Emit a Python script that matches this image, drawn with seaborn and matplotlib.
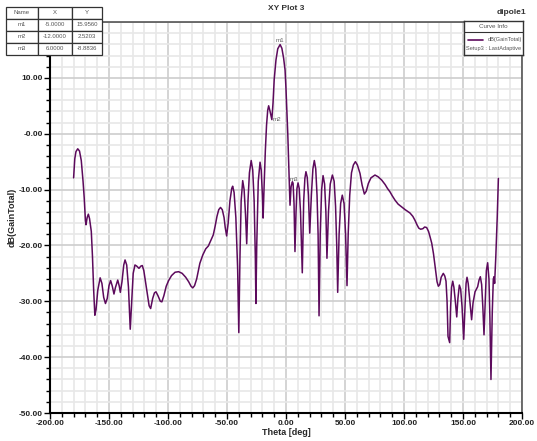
import numpy as np
import pandas as pd
import matplotlib
matplotlib.use("Agg")
import matplotlib.pyplot as plt
from matplotlib.ticker import MultipleLocator
from matplotlib.lines import Line2D
import seaborn as sns

# values
theta = [-180, -179, -178, -176.5, -175, -173.5, -172, -171, -170, -169.5, -168.5, -167.5, -166.5, -165, -164, -163, -162,
         -161, -159.5, -157.5, -156, -154.5, -153, -151.5, -150, -148.6, -147.2, -145.8, -144.5, -142.6, -141.3, -140.4,
         -139, -137.5, -136.4, -135, -133.5, -132, -130.5, -129.5, -128, -126.5, -124.6, -123, -121.8, -120.5, -118,
         -116, -114.7, -113, -111.5, -110.2, -108.5, -106.5, -105.2, -103.5, -101.5, -99.5, -97, -94, -91, -88, -85,
         -82.5, -80.5, -79, -77.5, -75.7, -73, -70.5, -68, -65.8, -63.5, -61.6, -60, -58.5, -57, -55.5, -54, -52.5,
         -51.5, -50.3, -49, -47.5, -46, -45.2, -44, -42.5, -41, -40, -39, -38, -36.7, -35.5, -34.3, -33.3, -32.2, -31,
         -29.5, -28.2, -27, -26, -25.5, -24.8, -23.5, -22, -21, -20, -19.4, -18.5, -17.5, -16.5, -15.5, -14.7, -13.5,
         -12, -11, -10, -8.5, -7, -5, -3.5, -2, -0.8, 0, 0.8, 1.5, 2.5, 3.4, 4.3, 5.4, 6, 6.8, 7.6, 8.5, 9.3, 10.2,
         11.2, 12.3, 13.8, 15, 16, 16.9, 18, 19, 20.1, 21.5, 22.8, 24, 25.2, 26.3, 27.2, 28, 29, 30.2, 31.4, 32.7,
         33.8, 34.7, 36, 37.5, 39.3, 40.8, 42, 43, 43.8, 45, 46.3, 47.7, 49.2, 50.5, 51.7, 52.7, 54, 55.5, 57.1, 58.8,
         60.5, 62.7, 64.5, 66.4, 68, 69.8, 72, 75.4, 78, 81.1, 84, 86, 88.1, 90, 92.4, 95, 98, 101, 105.1, 107.5,
         109.3, 111, 112.5, 114.1, 116, 117.5, 119.2, 120.8, 122, 123.5, 125, 126.5, 128, 129.1, 130.3, 131.5, 133.3,
         134.6, 135.6, 136.5, 137.3, 138.7, 139.5, 140.3, 141.3, 142.3, 143.5, 144.7, 145.7, 146.9, 148, 149.2, 150.6,
         151.8, 152.6, 153.4, 154.4, 155.8, 157.3, 158.5, 160.2, 162.4, 163.6, 164.7, 165.8, 166.8, 167.8, 168.8,
         169.8, 170.9, 172, 172.8, 173.7, 174.8, 175.7, 176.3, 176.8, 177.8, 179, 180]
gain = [-7.9, -4.5, -3.2, -2.7, -3.1, -4.8, -8.5, -11.5, -15.5, -16.3, -15.0, -14.4, -15.2, -17.5, -22, -28, -32.5,
        -31.5, -28, -25.8, -26.8, -29.3, -30.4, -29.5, -27.2, -26.3, -27.3, -28.7, -27.5, -26.2, -27.3, -28.4,
        -26.5, -23.5, -22.6, -23.5, -27.5, -35.0, -29, -25, -23.5, -23.7, -24.1, -23.7, -23.6, -24.5, -28,
        -30.8, -31.3, -29.5, -28.5, -28.3, -29, -30.0, -30.1, -29, -27.3, -26.3, -25.4, -24.8, -24.7, -25.0, -25.7,
        -26.5, -27.3, -27.6, -27.2, -26.0, -23.2, -21.7, -20.6, -20.1, -19.0, -18.1, -16.5, -14.8, -13.6, -13.2, -13.6,
        -15.0, -16.8, -18.3, -16, -12, -9.8, -9.4, -10.5, -15, -24, -35.6, -22, -12, -8.4, -10.0, -14.5, -19.7, -12, -7,
        -4.8, -6.5, -12, -22, -30.4, -20, -8.5, -5.1, -6.5, -11, -15.1, -9, -3, 1.5, 4.2, 5.0, 4.0,
        2.52, 5.5, 9.7, 13.2, 15.2, 15.956, 15.3, 13.5, 11.4, 8, 3.5, 0, -7, -12.8, -9.5, -8.6, -8.88, -12.5, -21.1, -14,
        -9.8, -8.8, -9.8, -14, -24.9, -12, -8, -6.8, -7.8, -11, -17.8, -11, -6.3, -4.8, -6.3, -11, -18, -32.6, -18, -10,
        -7.5, -9, -14, -22.3, -14, -9, -7.4, -8.5, -13, -20, -28.4, -18, -12.5, -11.0, -12.5, -18, -27.2, -18, -11, -7,
        -5.6, -5.0, -5.6, -7.1, -9.2, -10.8, -10.3, -8.9, -7.9, -7.4, -7.7, -8.3, -9.1, -9.8, -10.4, -11.1, -11.9,
        -12.6, -13.1, -13.6, -14.2, -14.8, -15.5, -16.3, -16.9, -17.1, -17.0, -16.7, -16.8, -17.5, -18.4, -19.6,
        -21.5, -24, -26.5, -27.3, -27, -25.7, -25.0, -25.5, -26.4, -30, -36.3, -37.4, -31, -27.5, -26.4, -27.5, -30,
        -32.8, -29.5, -27.1, -27.8, -31, -36.8, -30.5, -26.8, -25.7, -26.8, -30, -33.3, -30.3, -28.3, -27.4, -26.2,
        -25.6, -27, -31, -36.0, -30, -24.5, -23.1, -26, -33, -44.0, -32, -26, -25.6, -26.8, -22, -15, -8.0]

marker_names = ["m1", "m2", "m3"]
marker_x = [-5.0, -12.0, 6.0]
marker_y = [15.9560, 2.5203, -8.8836]

ytick_vals = [-50, -40, -30, -20, -10, 0, 10, 20]
ytick_labels = ["-50.00", "-40.00", "-30.00", "-20.00", "-10.00", "-0.00", "10.00", ""]
xtick_vals = [-200, -150, -100, -50, 0, 50, 100, 150, 200]

df = pd.DataFrame({"Theta": theta, "Gain": gain})

sns.set_theme(style="white")
plt.rcParams["font.family"] = ["Liberation Sans", "DejaVu Sans"]

line_col = "#5c0a5c"

fig = plt.figure(figsize=(5.37, 4.41), dpi=100)
ax = fig.add_axes([50/537, 1-413/441, 472/537, 391/441])

sns.lineplot(data=df, x="Theta", y="Gain", ax=ax, color=line_col, linewidth=1.1, sort=False)

ax.set_xlim(-200, 200)
ax.set_ylim(-50, 20)
ax.xaxis.set_minor_locator(MultipleLocator(10))
ax.yaxis.set_minor_locator(MultipleLocator(2))
ax.set_xticks(xtick_vals)
ax.set_xticklabels(["%.2f" % v for v in xtick_vals])
ax.set_yticks(ytick_vals)
ax.set_yticklabels(ytick_labels)

ax.grid(which="major", color="#cdcdcd", linewidth=1.2)
ax.grid(which="minor", color="#e8e8e8", linewidth=1.2)
ax.set_axisbelow(True)

ax.tick_params(which="both", direction="out", bottom=True, left=True, colors="black",
               labelsize=6, pad=1)
ax.tick_params(which="major", length=4, width=1)
ax.tick_params(which="minor", length=3, width=1)
for lab in ax.get_xticklabels() + ax.get_yticklabels():
    lab.set_fontweight("bold")
    lab.set_color("#222222")

for s in ["left", "bottom"]:
    ax.spines[s].set_color("black")
    ax.spines[s].set_linewidth(1.5)
for s in ["top", "right"]:
    ax.spines[s].set_color("#555555")
    ax.spines[s].set_linewidth(1.2)

ax.set_xlabel("Theta [deg]", fontsize=6.5, fontweight="bold", labelpad=1)
ax.set_ylabel("dB(GainTotal)", fontsize=6.5, fontweight="bold", labelpad=2)

# marker labels on curve
ax.text(marker_x[0], marker_y[0] + 0.3, marker_names[0], fontsize=4.5, color="#666666", ha="center", va="bottom")
ax.text(marker_x[1] + 0.5, marker_y[1], marker_names[1], fontsize=4.5, color="#666666", ha="left", va="center")
ax.text(marker_x[2] + 0.5, marker_y[2] + 0.3, marker_names[2], fontsize=4.5, color="#666666", ha="center", va="bottom")

fig.text(286/537, 1-9/441, "XY Plot 3", fontsize=6, fontweight="bold", ha="center", va="center", color="#333333")
fig.text(526/537, 1-12/441, "dipole1", fontsize=6, fontweight="bold", ha="right", va="center", color="#333333")

# marker table
tax = fig.add_axes([6/537, 1-55/441, 96/537, 48/441])
tax.axis("off")
cells = [["Name", "X", "Y"]] + [[n, "%.4f" % x, "%.4f" % y] for n, x, y in zip(marker_names, marker_x, marker_y)]
tbl = tax.table(cellText=cells, bbox=[0, 0, 1, 1], cellLoc="center", colWidths=[32, 34, 30])
tbl.auto_set_font_size(False)
tbl.set_fontsize(4.3)
for (r, c), cell in tbl.get_celld().items():
    cell.set_edgecolor("#333333")
    cell.set_linewidth(0.9)
    cell.get_text().set_color("#555555")

# curve info box
lax = fig.add_axes([464/537, 1-55/441, 59/537, 34/441])
lax.set_xlim(0, 1)
lax.set_ylim(0, 1)
lax.set_xticks([])
lax.set_yticks([])
lax.set_facecolor("white")
for s in lax.spines.values():
    s.set_color("#333333")
    s.set_linewidth(1.0)
lax.text(0.5, 0.85, "Curve Info", fontsize=4.5, color="#555555", ha="center", va="center")
lax.add_line(Line2D([0, 1], [0.68, 0.68], color="#333333", linewidth=0.8))
lax.add_line(Line2D([0.07, 0.33], [0.45, 0.45], color=line_col, linewidth=1.2))
lax.text(0.40, 0.45, "dB(GainTotal)", fontsize=4.1, color="#555555", ha="left", va="center")
lax.text(0.5, 0.2, "Setup3 : LastAdaptive", fontsize=4.1, color="#555555", ha="center", va="center")

fig.savefig("out.png", dpi=100)
